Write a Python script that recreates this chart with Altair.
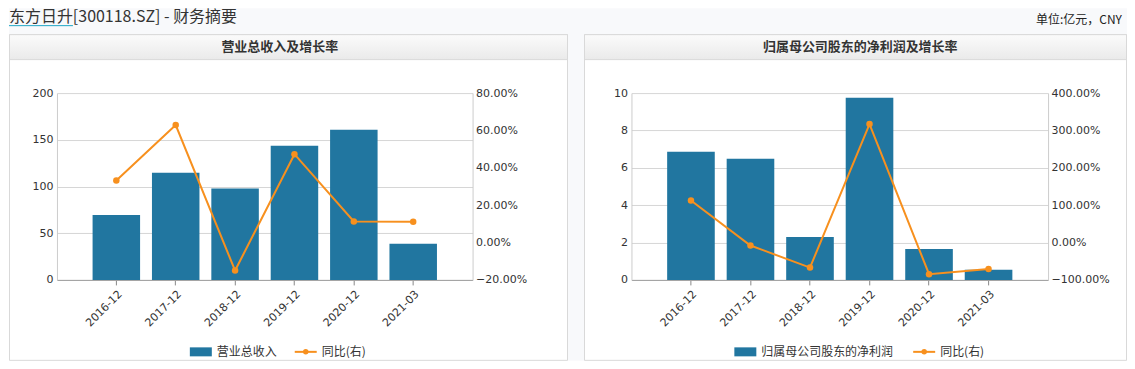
import altair as alt
import pandas as pd

# ---------------- data ----------------
categories = ["2016-12", "2017-12", "2018-12", "2019-12", "2020-12", "2021-03"]
revenue = [69.6, 114.6, 97.9, 143.6, 160.7, 38.6]          # 营业总收入 (亿元)
revenue_yoy = [33.2, 62.9, -15.0, 47.3, 11.3, 11.1]        # 同比 (%)
profit = [6.86, 6.48, 2.30, 9.75, 1.66, 0.54]              # 归属母公司股东的净利润 (亿元)
profit_yoy = [112.5, -8.0, -67.0, 317.0, -84.8, -70.5]     # 同比 (%)

page_title = "东方日升[300118.SZ] - 财务摘要"
unit_text = "单位:亿元，CNY"
panel_titles = ["营业总收入及增长率", "归属母公司股东的净利润及增长率"]
legend_bar = ["营业总收入", "归属母公司股东的净利润"]
legend_line = "同比(右)"

left_ticks = [0, 50, 100, 150, 200]
left_pct_ticks = [-20, 0, 20, 40, 60, 80]
right_ticks = [0, 2, 4, 6, 8, 10]
right_pct_ticks = [-100, 0, 100, 200, 300, 400]

df = pd.DataFrame({
    "cat": categories,
    "revenue": revenue,
    "revenue_yoy": revenue_yoy,
    "profit": profit,
    "profit_yoy": profit_yoy,
})

# ---------------- layout (page pixels) ----------------
PLOT_TOP, PLOT_BOT = 93, 280
PH = PLOT_BOT - PLOT_TOP
SHIFT = 21         # measured left extent of the value-axis labels
OX = 57 - SHIFT    # origin of the decoration layer (page x)
L_LO, L_HI, R_LO, R_HI = 57, 473, 632, 1049
PAGE_R, PAGE_B = 1127, 361
BAR = "#2176a0"
LINE = "#f7901e"
BORDER = "#d9d9d9"
CJK = "Noto Sans CJK SC"
NUM = "DejaVu Sans"
one = pd.DataFrame({"k": [0]})


def X(v):
    return v - OX


def Y(v):
    return v - PLOT_TOP


def text_layer(txt, x, y, size=12, weight="normal", align="left", color="#333333"):
    return alt.Chart(pd.DataFrame({"t": [txt]})).mark_text(
        align=align, baseline="middle", font=CJK, fontSize=size, fontWeight=weight, color=color
    ).encode(text="t:N", x=alt.value(X(x)), y=alt.value(Y(y)))


def rect_layer(x, x2, y, y2, fill, stroke=None):
    kw = dict(fill=fill)
    if stroke:
        kw.update(stroke=stroke, strokeWidth=1)
    return alt.Chart(one).mark_rect(**kw).encode(
        x=alt.value(X(x)), x2=alt.value(X(x2)), y=alt.value(Y(y)), y2=alt.value(Y(y2)))


header_fill = alt.Gradient(
    gradient="linear",
    stops=[alt.GradientStop(color="#fbfbfb", offset=0), alt.GradientStop(color="#eaeaea", offset=1)],
    x1=0, x2=0, y1=0, y2=1,
)


def legend(leg_x, leg_text, lx2):
    ly = 352
    return [
        rect_layer(leg_x, leg_x + 22, ly - 4.5, ly + 4.5, BAR),
        text_layer(leg_text, leg_x + 27, ly, size=12),
        alt.Chart(one).mark_rule(color=LINE, strokeWidth=2).encode(
            x=alt.value(X(lx2)), x2=alt.value(X(lx2 + 22)), y=alt.value(Y(ly))),
        alt.Chart(one).mark_point(filled=True, size=30, color=LINE, opacity=1).encode(
            x=alt.value(X(lx2 + 11)), y=alt.value(Y(ly))),
        text_layer(legend_line, lx2 + 27, ly, size=12),
    ]


# decorations: page background, panels, headers, titles, legends
deco_layers = [
    rect_layer(8, PAGE_R, 8, PAGE_B, "#f8f9fb"),
    rect_layer(8.5, 567, 34.5, PAGE_B - 0.5, "#ffffff", BORDER),
    rect_layer(584, PAGE_R - 0.5, 34.5, PAGE_B - 0.5, "#ffffff", BORDER),
    rect_layer(8.5, 567, 34.5, 59.5, header_fill, BORDER),
    rect_layer(584, PAGE_R - 0.5, 34.5, 59.5, header_fill, BORDER),
    text_layer(panel_titles[0], 279, 47, size=13, weight="bold", align="center"),
    text_layer(panel_titles[1], 860, 47, size=13, weight="bold", align="center"),
    text_layer(page_title, 8, 17, size=16, color="#333333"),
    alt.Chart(one).mark_rule(color="#1ea7c5", strokeWidth=1).encode(
        x=alt.value(X(8)), x2=alt.value(X(72)), y=alt.value(Y(25.5))),
    text_layer(unit_text, 1036, 20, size=12, color="#222222"),
] + legend(189, legend_bar[0], 294) + legend(734, legend_bar[1], 913)

deco = alt.layer(*deco_layers).properties(width=0, height=PH)


def make_plot(bar_field, yoy_field, bar_dom, bar_ticks, pct_dom, pct_ticks, width):
    xs = alt.X(
        "cat:N", sort=categories,
        scale=alt.Scale(domain=categories, paddingInner=0.2, paddingOuter=0.6),
        axis=alt.Axis(orient="bottom", title=None, labelAngle=-45,
                      domainColor="#a0a0a0", tickColor="#888888", tickSize=5, grid=False,
                      labelFont=NUM, labelFontSize=11, labelColor="#333333", labelPadding=3),
    )
    bars = alt.Chart(df).mark_bar(color=BAR).encode(
        x=xs,
        y=alt.Y(f"{bar_field}:Q",
                scale=alt.Scale(domain=bar_dom, nice=False, zero=False),
                axis=alt.Axis(orient="left", values=bar_ticks, title=None, grid=True,
                              gridColor="#d6d6d6", domainColor="#cccccc", ticks=False, labelPadding=4,
                              labelFont=NUM, labelFontSize=11, labelColor="#333333")),
    )
    line = alt.Chart(df).mark_line(
        color=LINE, strokeWidth=2,
        point=alt.OverlayMarkDef(filled=True, size=42, color=LINE, opacity=1),
    ).encode(
        x=xs,
        y=alt.Y(f"{yoy_field}:Q",
                scale=alt.Scale(domain=pct_dom, nice=False, zero=False),
                axis=alt.Axis(orient="right", values=pct_ticks, title=None,
                              grid=False, domainColor="#cccccc", ticks=False, labelPadding=3,
                              labelExpr="format(datum.value, '.2f') + '%'",
                              labelFont=NUM, labelFontSize=11, labelColor="#333333")),
    )
    return alt.layer(bars, line).resolve_scale(y="independent").properties(width=width, height=PH)


left = make_plot("revenue", "revenue_yoy", [0, 200], left_ticks, [-20, 80], left_pct_ticks, L_HI - L_LO)
right = make_plot("profit", "profit_yoy", [0, 10], right_ticks, [-100, 400], right_pct_ticks, R_HI - R_LO)

plots = alt.hconcat(left, right, spacing=R_LO - L_HI, bounds="flush")

chart = alt.hconcat(deco, plots, spacing=0, bounds="flush").properties(
    padding=0, background="#ffffff",
).configure_view(strokeWidth=0)

chart.save("out.html", embed_options={"renderer": "svg", "actions": False})
